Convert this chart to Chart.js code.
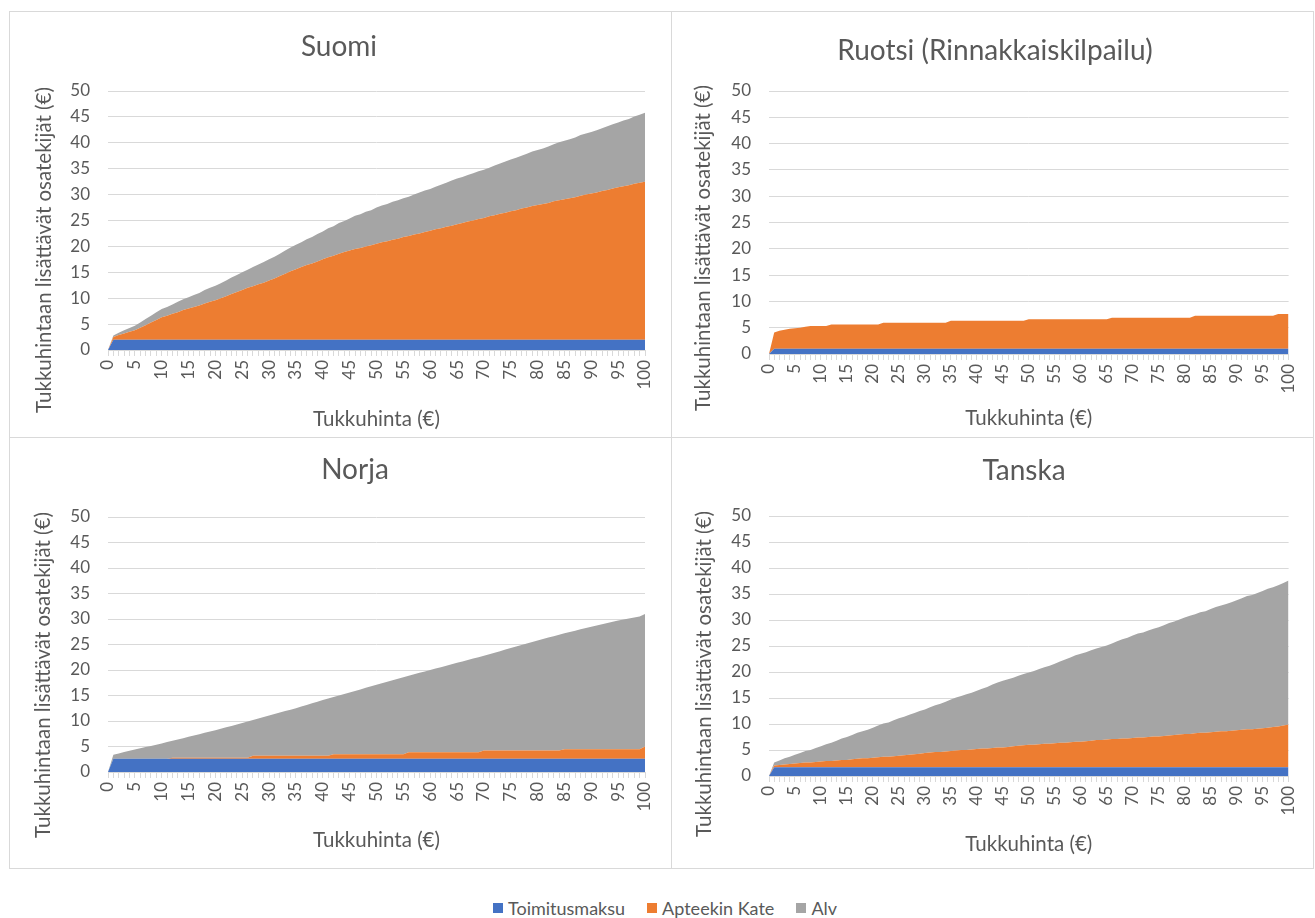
<!DOCTYPE html>
<html lang="fi">
<head>
<meta charset="utf-8">
<title>Tukkuhintaan lisättävät osatekijät</title>
<script src="https://cdn.jsdelivr.net/npm/chart.js@4.4.1/dist/chart.umd.min.js"></script>
<style>
  html, body { margin: 0; padding: 0; background: #ffffff; }
  body { width: 1315px; height: 918px; position: relative; overflow: hidden; font-family: Lato, "Open Sans", sans-serif; }
  .frame { position: absolute; box-sizing: border-box; border: 1px solid #d9d9d9; }
  canvas { position: absolute; }
  #legend { position: absolute; left: 493px; top: 897px; height: 22px; display: flex; align-items: center;
            font: 18px Lato, sans-serif; color: #595959; white-space: nowrap; }
  #legend .item { display: flex; align-items: center; margin-right: 22px; }
  #legend .sw { width: 10px; height: 10px; margin-right: 5px; display: inline-block; }
</style>
</head>
<body>
<div class="frame" style="left:9px;top:11px;width:663px;height:427px;"></div>
<div class="frame" style="left:671px;top:11px;width:643px;height:427px;"></div>
<div class="frame" style="left:9px;top:437px;width:663px;height:432px;"></div>
<div class="frame" style="left:671px;top:437px;width:643px;height:432px;"></div>

<canvas id="suomi" style="left:9px;top:11px;"></canvas>
<canvas id="ruotsi" style="left:671px;top:11px;"></canvas>
<canvas id="norja" style="left:9px;top:437px;"></canvas>
<canvas id="tanska" style="left:671px;top:437px;"></canvas>

<div id="legend"></div>

<script>
// Tukkuhinta (€), one category per euro
const categories = [
  '0','1','2','3','4','5','6','7','8','9','10',
  '11','12','13','14','15','16','17','18','19','20',
  '21','22','23','24','25','26','27','28','29','30',
  '31','32','33','34','35','36','37','38','39','40',
  '41','42','43','44','45','46','47','48','49','50',
  '51','52','53','54','55','56','57','58','59','60',
  '61','62','63','64','65','66','67','68','69','70',
  '71','72','73','74','75','76','77','78','79','80',
  '81','82','83','84','85','86','87','88','89','90',
  '91','92','93','94','95','96','97','98','99','100'
];

const seriesNames = ['Toimitusmaksu', 'Apteekin Kate', 'Alv'];

// ---- Suomi ----
const suomiToimitusmaksu = [
  0, 2, 2, 2, 2, 2, 2, 2, 2, 2, 2,
  2, 2, 2, 2, 2, 2, 2, 2, 2, 2,
  2, 2, 2, 2, 2, 2, 2, 2, 2, 2,
  2, 2, 2, 2, 2, 2, 2, 2, 2, 2,
  2, 2, 2, 2, 2, 2, 2, 2, 2, 2,
  2, 2, 2, 2, 2, 2, 2, 2, 2, 2,
  2, 2, 2, 2, 2, 2, 2, 2, 2, 2,
  2, 2, 2, 2, 2, 2, 2, 2, 2, 2,
  2, 2, 2, 2, 2, 2, 2, 2, 2, 2,
  2, 2, 2, 2, 2, 2, 2, 2, 2, 2
];
const suomiKate = [
  0, 0.5, 0.9, 1.2, 1.5, 1.8, 2.3, 2.8, 3.3, 3.8, 4.3,
  4.6, 5.0, 5.3, 5.7, 6.0, 6.3, 6.6, 7.0, 7.3, 7.6,
  8.0, 8.4, 8.8, 9.2, 9.6, 10.0, 10.3, 10.7, 11.0, 11.4,
  11.8, 12.3, 12.7, 13.2, 13.6, 14.0, 14.4, 14.7, 15.1, 15.5,
  15.9, 16.2, 16.6, 16.9, 17.2, 17.5, 17.7, 18.0, 18.2, 18.5,
  18.8, 19.0, 19.3, 19.5, 19.8, 20.0, 20.3, 20.5, 20.8, 21.0,
  21.3, 21.5, 21.8, 22.0, 22.3, 22.5, 22.8, 23.0, 23.3, 23.5,
  23.8, 24.0, 24.3, 24.5, 24.8, 25.0, 25.3, 25.5, 25.8, 26.0,
  26.2, 26.4, 26.7, 26.9, 27.1, 27.3, 27.5, 27.8, 28.0, 28.2,
  28.4, 28.7, 28.9, 29.2, 29.4, 29.6, 29.8, 30.1, 30.3, 30.5
];
const suomiAlv = [
  0, 0.3, 0.45, 0.6, 0.75, 0.9, 1.0, 1.2, 1.3, 1.5, 1.6,
  1.7, 1.8, 2.0, 2.1, 2.2, 2.3, 2.4, 2.6, 2.7, 2.8,
  2.9, 3.0, 3.2, 3.3, 3.4, 3.5, 3.7, 3.8, 4.0, 4.1,
  4.2, 4.3, 4.5, 4.6, 4.7, 4.8, 5.0, 5.1, 5.3, 5.4,
  5.6, 5.7, 5.9, 6.0, 6.2, 6.4, 6.5, 6.7, 6.8, 7.0,
  7.1, 7.2, 7.3, 7.4, 7.5, 7.6, 7.7, 7.9, 8.0, 8.1,
  8.2, 8.4, 8.5, 8.7, 8.8, 8.9, 9.0, 9.1, 9.2, 9.3,
  9.4, 9.6, 9.7, 9.9, 10.0, 10.1, 10.2, 10.4, 10.5, 10.6,
  10.7, 10.9, 11.0, 11.2, 11.3, 11.4, 11.5, 11.7, 11.8, 11.9,
  12.0, 12.1, 12.3, 12.4, 12.5, 12.7, 12.8, 13.0, 13.1, 13.3
];

// ---- Ruotsi (Rinnakkaiskilpailu) ----
const ruotsiToimitusmaksu = [
  0, 1, 1, 1, 1, 1, 1, 1, 1, 1, 1,
  1, 1, 1, 1, 1, 1, 1, 1, 1, 1,
  1, 1, 1, 1, 1, 1, 1, 1, 1, 1,
  1, 1, 1, 1, 1, 1, 1, 1, 1, 1,
  1, 1, 1, 1, 1, 1, 1, 1, 1, 1,
  1, 1, 1, 1, 1, 1, 1, 1, 1, 1,
  1, 1, 1, 1, 1, 1, 1, 1, 1, 1,
  1, 1, 1, 1, 1, 1, 1, 1, 1, 1,
  1, 1, 1, 1, 1, 1, 1, 1, 1, 1,
  1, 1, 1, 1, 1, 1, 1, 1, 1, 1
];
const ruotsiKate = [
  0, 3.1, 3.4, 3.6, 3.8, 3.9, 4.0, 4.2, 4.3, 4.3, 4.3,
  4.3, 4.6, 4.6, 4.6, 4.6, 4.6, 4.6, 4.6, 4.6, 4.6,
  4.6, 4.95, 4.95, 4.95, 4.95, 4.95, 4.95, 4.95, 4.95, 4.95,
  4.95, 4.95, 4.95, 4.95, 5.3, 5.3, 5.3, 5.3, 5.3, 5.3,
  5.3, 5.3, 5.3, 5.3, 5.3, 5.3, 5.3, 5.3, 5.3, 5.6,
  5.6, 5.6, 5.6, 5.6, 5.6, 5.6, 5.6, 5.6, 5.6, 5.6,
  5.6, 5.6, 5.6, 5.6, 5.6, 5.9, 5.9, 5.9, 5.9, 5.9,
  5.9, 5.9, 5.9, 5.9, 5.9, 5.9, 5.9, 5.9, 5.9, 5.9,
  5.9, 6.25, 6.25, 6.25, 6.25, 6.25, 6.25, 6.25, 6.25, 6.25,
  6.25, 6.25, 6.25, 6.25, 6.25, 6.25, 6.25, 6.6, 6.6, 6.6
];
const ruotsiAlv = [
  0, 0, 0, 0, 0, 0, 0, 0, 0, 0, 0,
  0, 0, 0, 0, 0, 0, 0, 0, 0, 0,
  0, 0, 0, 0, 0, 0, 0, 0, 0, 0,
  0, 0, 0, 0, 0, 0, 0, 0, 0, 0,
  0, 0, 0, 0, 0, 0, 0, 0, 0, 0,
  0, 0, 0, 0, 0, 0, 0, 0, 0, 0,
  0, 0, 0, 0, 0, 0, 0, 0, 0, 0,
  0, 0, 0, 0, 0, 0, 0, 0, 0, 0,
  0, 0, 0, 0, 0, 0, 0, 0, 0, 0,
  0, 0, 0, 0, 0, 0, 0, 0, 0, 0
];

// ---- Norja ----
const norjaToimitusmaksu = [
  0, 2.6, 2.6, 2.6, 2.6, 2.6, 2.6, 2.6, 2.6, 2.6, 2.6,
  2.6, 2.6, 2.6, 2.6, 2.6, 2.6, 2.6, 2.6, 2.6, 2.6,
  2.6, 2.6, 2.6, 2.6, 2.6, 2.6, 2.6, 2.6, 2.6, 2.6,
  2.6, 2.6, 2.6, 2.6, 2.6, 2.6, 2.6, 2.6, 2.6, 2.6,
  2.6, 2.6, 2.6, 2.6, 2.6, 2.6, 2.6, 2.6, 2.6, 2.6,
  2.6, 2.6, 2.6, 2.6, 2.6, 2.6, 2.6, 2.6, 2.6, 2.6,
  2.6, 2.6, 2.6, 2.6, 2.6, 2.6, 2.6, 2.6, 2.6, 2.6,
  2.6, 2.6, 2.6, 2.6, 2.6, 2.6, 2.6, 2.6, 2.6, 2.6,
  2.6, 2.6, 2.6, 2.6, 2.6, 2.6, 2.6, 2.6, 2.6, 2.6,
  2.6, 2.6, 2.6, 2.6, 2.6, 2.6, 2.6, 2.6, 2.6, 2.6
];
const norjaKate = [
  0, 0, 0, 0, 0, 0, 0, 0, 0, 0, 0,
  0, 0.2, 0.2, 0.2, 0.2, 0.2, 0.2, 0.2, 0.2, 0.2,
  0.2, 0.2, 0.2, 0.2, 0.2, 0.2, 0.6, 0.6, 0.6, 0.6,
  0.6, 0.6, 0.6, 0.6, 0.6, 0.6, 0.6, 0.6, 0.6, 0.6,
  0.6, 0.9, 0.9, 0.9, 0.9, 0.9, 0.9, 0.9, 0.9, 0.9,
  0.9, 0.9, 0.9, 0.9, 0.9, 1.25, 1.25, 1.25, 1.25, 1.25,
  1.25, 1.25, 1.25, 1.25, 1.25, 1.25, 1.25, 1.25, 1.25, 1.6,
  1.6, 1.6, 1.6, 1.6, 1.6, 1.6, 1.6, 1.6, 1.6, 1.6,
  1.6, 1.6, 1.6, 1.6, 1.85, 1.85, 1.85, 1.85, 1.85, 1.85,
  1.85, 1.85, 1.85, 1.85, 1.85, 1.85, 1.85, 1.85, 1.85, 2.4
];
const norjaAlv = [
  0, 0.8, 1.05, 1.3, 1.55, 1.8, 2.04, 2.28, 2.52, 2.76, 3.0,
  3.26, 3.32, 3.58, 3.84, 4.1, 4.36, 4.62, 4.88, 5.14, 5.4,
  5.68, 5.96, 6.24, 6.52, 6.8, 7.1, 7.0, 7.3, 7.6, 7.9,
  8.18, 8.46, 8.74, 9.02, 9.3, 9.62, 9.94, 10.26, 10.58, 10.9,
  11.2, 11.2, 11.5, 11.8, 12.1, 12.4, 12.7, 13.0, 13.3, 13.6,
  13.9, 14.2, 14.5, 14.8, 15.1, 15.03, 15.31, 15.59, 15.87, 16.15,
  16.43, 16.71, 16.99, 17.27, 17.55, 17.83, 18.11, 18.39, 18.67, 18.6,
  18.9, 19.2, 19.5, 19.8, 20.1, 20.4, 20.7, 21.0, 21.3, 21.6,
  21.88, 22.16, 22.44, 22.72, 22.75, 23.01, 23.27, 23.53, 23.79, 24.05,
  24.29, 24.53, 24.77, 25.01, 25.25, 25.45, 25.65, 25.85, 26.05, 26.0
];

// ---- Tanska ----
const tanskaToimitusmaksu = [
  0, 1.7, 1.7, 1.7, 1.7, 1.7, 1.7, 1.7, 1.7, 1.7, 1.7,
  1.7, 1.7, 1.7, 1.7, 1.7, 1.7, 1.7, 1.7, 1.7, 1.7,
  1.7, 1.7, 1.7, 1.7, 1.7, 1.7, 1.7, 1.7, 1.7, 1.7,
  1.7, 1.7, 1.7, 1.7, 1.7, 1.7, 1.7, 1.7, 1.7, 1.7,
  1.7, 1.7, 1.7, 1.7, 1.7, 1.7, 1.7, 1.7, 1.7, 1.7,
  1.7, 1.7, 1.7, 1.7, 1.7, 1.7, 1.7, 1.7, 1.7, 1.7,
  1.7, 1.7, 1.7, 1.7, 1.7, 1.7, 1.7, 1.7, 1.7, 1.7,
  1.7, 1.7, 1.7, 1.7, 1.7, 1.7, 1.7, 1.7, 1.7, 1.7,
  1.7, 1.7, 1.7, 1.7, 1.7, 1.7, 1.7, 1.7, 1.7, 1.7,
  1.7, 1.7, 1.7, 1.7, 1.7, 1.7, 1.7, 1.7, 1.7, 1.7
];
const tanskaKate = [
  0, 0.3, 0.4, 0.5, 0.6, 0.7, 0.8, 0.9, 0.9, 1.0, 1.1,
  1.2, 1.2, 1.3, 1.4, 1.4, 1.5, 1.6, 1.7, 1.7, 1.8,
  1.9, 2.0, 2.0, 2.1, 2.2, 2.3, 2.4, 2.5, 2.6, 2.7,
  2.8, 2.9, 2.9, 3.0, 3.1, 3.2, 3.3, 3.3, 3.4, 3.5,
  3.6, 3.6, 3.7, 3.8, 3.8, 3.9, 4.0, 4.1, 4.2, 4.3,
  4.3, 4.4, 4.5, 4.5, 4.6, 4.7, 4.7, 4.8, 4.9, 4.9,
  5.0, 5.1, 5.2, 5.2, 5.3, 5.4, 5.4, 5.5, 5.5, 5.6,
  5.7, 5.7, 5.8, 5.9, 5.9, 6.0, 6.1, 6.2, 6.3, 6.4,
  6.4, 6.5, 6.6, 6.6, 6.7, 6.8, 6.9, 6.9, 7.0, 7.1,
  7.2, 7.3, 7.3, 7.4, 7.5, 7.6, 7.7, 7.8, 8.0, 8.2
];
const tanskaAlv = [
  0, 0.6, 0.9, 1.2, 1.4, 1.7, 1.9, 2.2, 2.4, 2.7, 2.9,
  3.2, 3.5, 3.8, 4.1, 4.4, 4.7, 5.0, 5.2, 5.5, 5.8,
  6.1, 6.4, 6.6, 6.9, 7.2, 7.4, 7.7, 7.9, 8.2, 8.4,
  8.7, 9.0, 9.3, 9.6, 9.9, 10.2, 10.4, 10.7, 10.9, 11.2,
  11.5, 11.8, 12.2, 12.5, 12.8, 13.0, 13.2, 13.5, 13.7, 13.9,
  14.2, 14.5, 14.7, 15.0, 15.3, 15.6, 16.0, 16.3, 16.6, 16.9,
  17.1, 17.4, 17.6, 17.9, 18.1, 18.4, 18.8, 19.1, 19.4, 19.7,
  20.0, 20.2, 20.5, 20.7, 21.0, 21.3, 21.6, 21.8, 22.1, 22.4,
  22.7, 22.9, 23.2, 23.4, 23.7, 24.0, 24.2, 24.5, 24.7, 25.0,
  25.3, 25.6, 25.8, 26.1, 26.4, 26.7, 26.9, 27.2, 27.4, 27.7
];

// Y axis: 0–50 in steps of 5
const yTicks = { min: 0, max: 50, step: 5 };
// Label shown on every fifth category
const xLabelEvery = 5;

const COLORS = ['#4472C4', '#ED7D31', '#A5A5A5'];
const TEXT = '#595959';
const GRID = '#d9d9d9';
const FONT = 'Lato, "Open Sans", sans-serif';

Chart.defaults.font.family = FONT;
Chart.defaults.color = TEXT;

// Chart title and rotated y-axis title, drawn on the chart canvas
const panelText = {
  id: 'panelText',
  afterDraw(chart, args, o) {
    const ctx = chart.ctx;
    ctx.save();
    ctx.fillStyle = TEXT;
    ctx.textAlign = 'center';
    ctx.textBaseline = 'middle';
    ctx.font = o.titleSize + 'px ' + FONT;
    ctx.fillText(o.title, o.titleX, o.titleY);
    ctx.translate(o.yTitleX, o.yTitleY);
    ctx.rotate(-Math.PI / 2);
    ctx.font = o.yTitleSize + 'px ' + FONT;
    ctx.fillText(o.yTitle, 0, 0);
    ctx.restore();
  }
};

function makePanel(id, title, series, box) {
  const canvas = document.getElementById(id);
  canvas.width = box.w;
  canvas.height = box.h;
  return new Chart(canvas, {
    type: 'line',
    data: {
      labels: categories,
      datasets: series.map((values, i) => ({
        label: seriesNames[i],
        data: values,
        backgroundColor: COLORS[i],
        borderColor: 'rgba(0,0,0,0)',
        borderWidth: 0,
        pointRadius: 0,
        tension: 0,
        fill: i === 0 ? 'origin' : '-1'
      }))
    },
    plugins: [panelText],
    options: {
      responsive: false,
      animation: false,
      events: [],
      layout: { padding: { left: 0, top: box.plotTop, right: box.w - box.plotRight, bottom: 0 } },
      plugins: {
        legend: { display: false },
        tooltip: { enabled: false },
        title: { display: false },
        panelText: {
          title: title, titleSize: 28, titleX: box.titleX, titleY: box.titleY,
          yTitle: 'Tukkuhintaan lisättävät osatekijät (€)', yTitleSize: 20.5,
          yTitleX: box.yTitleX, yTitleY: box.yTitleY
        }
      },
      scales: {
        x: {
          type: 'category',
          offset: false,
          grid: { display: true, drawOnChartArea: false, drawTicks: true, tickLength: 6, color: GRID, tickColor: GRID },
          border: { display: true, color: GRID },
          ticks: {
            autoSkip: false, minRotation: 90, maxRotation: 90, padding: 4,
            color: TEXT, font: { size: 17 },
            callback: function (value, index) {
              return index % xLabelEvery === 0 ? this.getLabelForValue(value) : '';
            }
          },
          title: { display: true, text: 'Tukkuhinta (€)', color: TEXT, font: { size: 20.5 },
                   padding: { top: 0, bottom: box.xTitlePad } },
          afterFit: (s) => { s.height = box.h - box.plotBottom; }
        },
        y: {
          stacked: true,
          min: yTicks.min,
          max: yTicks.max,
          ticks: { stepSize: yTicks.step, padding: 18, color: TEXT, font: { size: 17 } },
          grid: { color: GRID, drawTicks: false },
          border: { display: false },
          afterFit: (s) => { s.width = box.plotLeft; }
        }
      }
    }
  });
}

makePanel('suomi', 'Suomi', [suomiToimitusmaksu, suomiKate, suomiAlv], {
  w: 662, h: 426, plotLeft: 99, plotRight: 636, plotTop: 80, plotBottom: 339,
  titleX: 330, titleY: 36, yTitleX: 35, yTitleY: 239, xTitlePad: 5
});
makePanel('ruotsi', 'Ruotsi (Rinnakkaiskilpailu)', [ruotsiToimitusmaksu, ruotsiKate, ruotsiAlv], {
  w: 642, h: 426, plotLeft: 98, plotRight: 628, plotTop: 80, plotBottom: 343,
  titleX: 324, titleY: 40, yTitleX: 32, yTitleY: 237, xTitlePad: 6
});
makePanel('norja', 'Norja', [norjaToimitusmaksu, norjaKate, norjaAlv], {
  w: 662, h: 431, plotLeft: 99, plotRight: 636, plotTop: 80, plotBottom: 335,
  titleX: 346, titleY: 33, yTitleX: 34, yTitleY: 238, xTitlePad: 15
});
makePanel('tanska', 'Tanska', [tanskaToimitusmaksu, tanskaKate, tanskaAlv], {
  w: 642, h: 431, plotLeft: 98, plotRight: 628, plotTop: 79, plotBottom: 339,
  titleX: 353, titleY: 34, yTitleX: 33, yTitleY: 237, xTitlePad: 11
});

// Shared legend below the panels
const legend = document.getElementById('legend');
seriesNames.forEach((name, i) => {
  const item = document.createElement('span');
  item.className = 'item';
  const sw = document.createElement('span');
  sw.className = 'sw';
  sw.style.background = COLORS[i];
  item.appendChild(sw);
  item.appendChild(document.createTextNode(name));
  legend.appendChild(item);
});
</script>
</body>
</html>
